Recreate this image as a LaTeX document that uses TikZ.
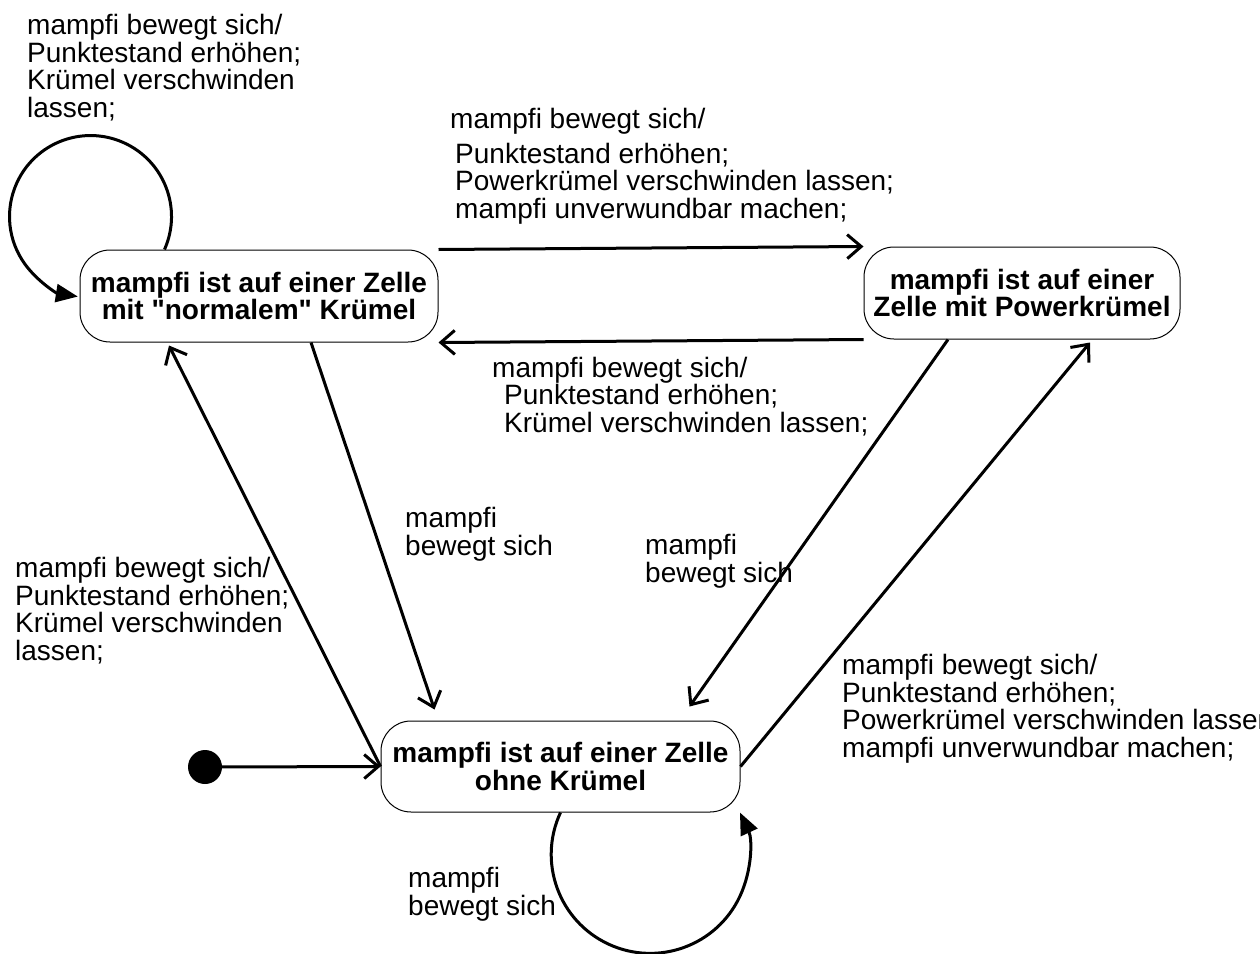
\documentclass[tikz,border=0pt]{standalone}
\usepackage{fontspec}
\setmainfont{Liberation Sans}[Ligatures=TeXOff]
\usetikzlibrary{arrows.meta, positioning}

\begin{document}
\begin{tikzpicture}[x=1pt, y=1pt,
    state/.style={draw, line width=1pt, rounded corners=30pt, align=center,
      inner sep=0pt, font=\bfseries\fontsize{28}{26}\selectfont},
    txt/.style={anchor=base west, align=left, inner sep=0pt,
      font=\fontsize{28}{27.5}\selectfont},
    loopline/.style={draw, line width=3pt, -{Triangle[length=22pt,width=18pt]}}]
\useasboundingbox (0,0) rectangle (1260,-953);
\clip (0,0) rectangle (1260,-953);

% states
\begin{scope}[every node/.style={state}]
    \node[minimum width=358pt, minimum height=92pt] (a) at (259,-296) {mampfi ist auf einer Zelle\\mit "normalem" Krümel};
    \node[minimum width=316pt, minimum height=92pt] (b) at (1022,-293) {mampfi ist auf einer\\Zelle mit Powerkrümel};
    \node[minimum width=359pt, minimum height=91pt] (c) at (560.5,-766.5) {mampfi ist auf einer Zelle\\ohne Krümel};
\end{scope}
\node[circle, fill, inner sep=0pt, minimum size=34pt] (s) at (205,-767) {};

% labels (anchored at the baseline of their last line)
\begin{scope}[every node/.style={txt}]
    \node (t1) at (27,-117) {mampfi bewegt sich/\\Punktestand erhöhen;\\Krümel verschwinden\\lassen;};
    \node (t2) at (450,-218) {mampfi bewegt sich/\\[7.5pt]\hspace*{5pt}Punktestand erhöhen;\\\hspace*{5pt}Powerkrümel verschwinden lassen;\\\hspace*{5pt}mampfi unverwundbar machen;};
    \node (t3) at (492,-432) {mampfi bewegt sich/\\\hspace*{12pt}Punktestand erhöhen;\\\hspace*{12pt}Krümel verschwinden lassen;};
    \node (t4) at (15,-660) {mampfi bewegt sich/\\Punktestand erhöhen;\\Krümel verschwinden\\lassen;};
    \node (t5) at (842,-757) {mampfi bewegt sich/\\Punktestand erhöhen;\\Powerkrümel verschwinden lassen;\\mampfi unverwundbar machen;};
    \node (t6) at (405,-555) {mampfi\\bewegt sich};
    \node (t7) at (645,-582) {mampfi\\bewegt sich};
    \node (t8) at (408,-915) {mampfi\\bewegt sich};
\end{scope}

% transitions
\begin{scope}[every edge/.style={draw, line width=3pt, -{Straight Barb[length=14pt,width=24pt]}}]
    \path (a.north east) edge (b.north west);
    \path (b.south west) edge (a.south east);
    \path ([xshift=52pt]a.south) edge ([xshift=-126pt,yshift=11pt]c.north);
    \path (c.west) edge ([xshift=-90pt,yshift=-3pt]a.south);
    \path ([xshift=-74pt]b.south) edge ([xshift=129pt,yshift=14pt]c.north);
    \path (c.east) edge ([xshift=68pt,yshift=-3pt]b.south);
    \path (s) edge (c.west);
\end{scope}
\path[loopline] ([xshift=85pt]a.north west) arc[start angle=-24, end angle=261, radius=81pt];
\path[loopline] (c.south) arc[start angle=155, end angle=385, radius=99pt];
\end{tikzpicture}
\end{document}
